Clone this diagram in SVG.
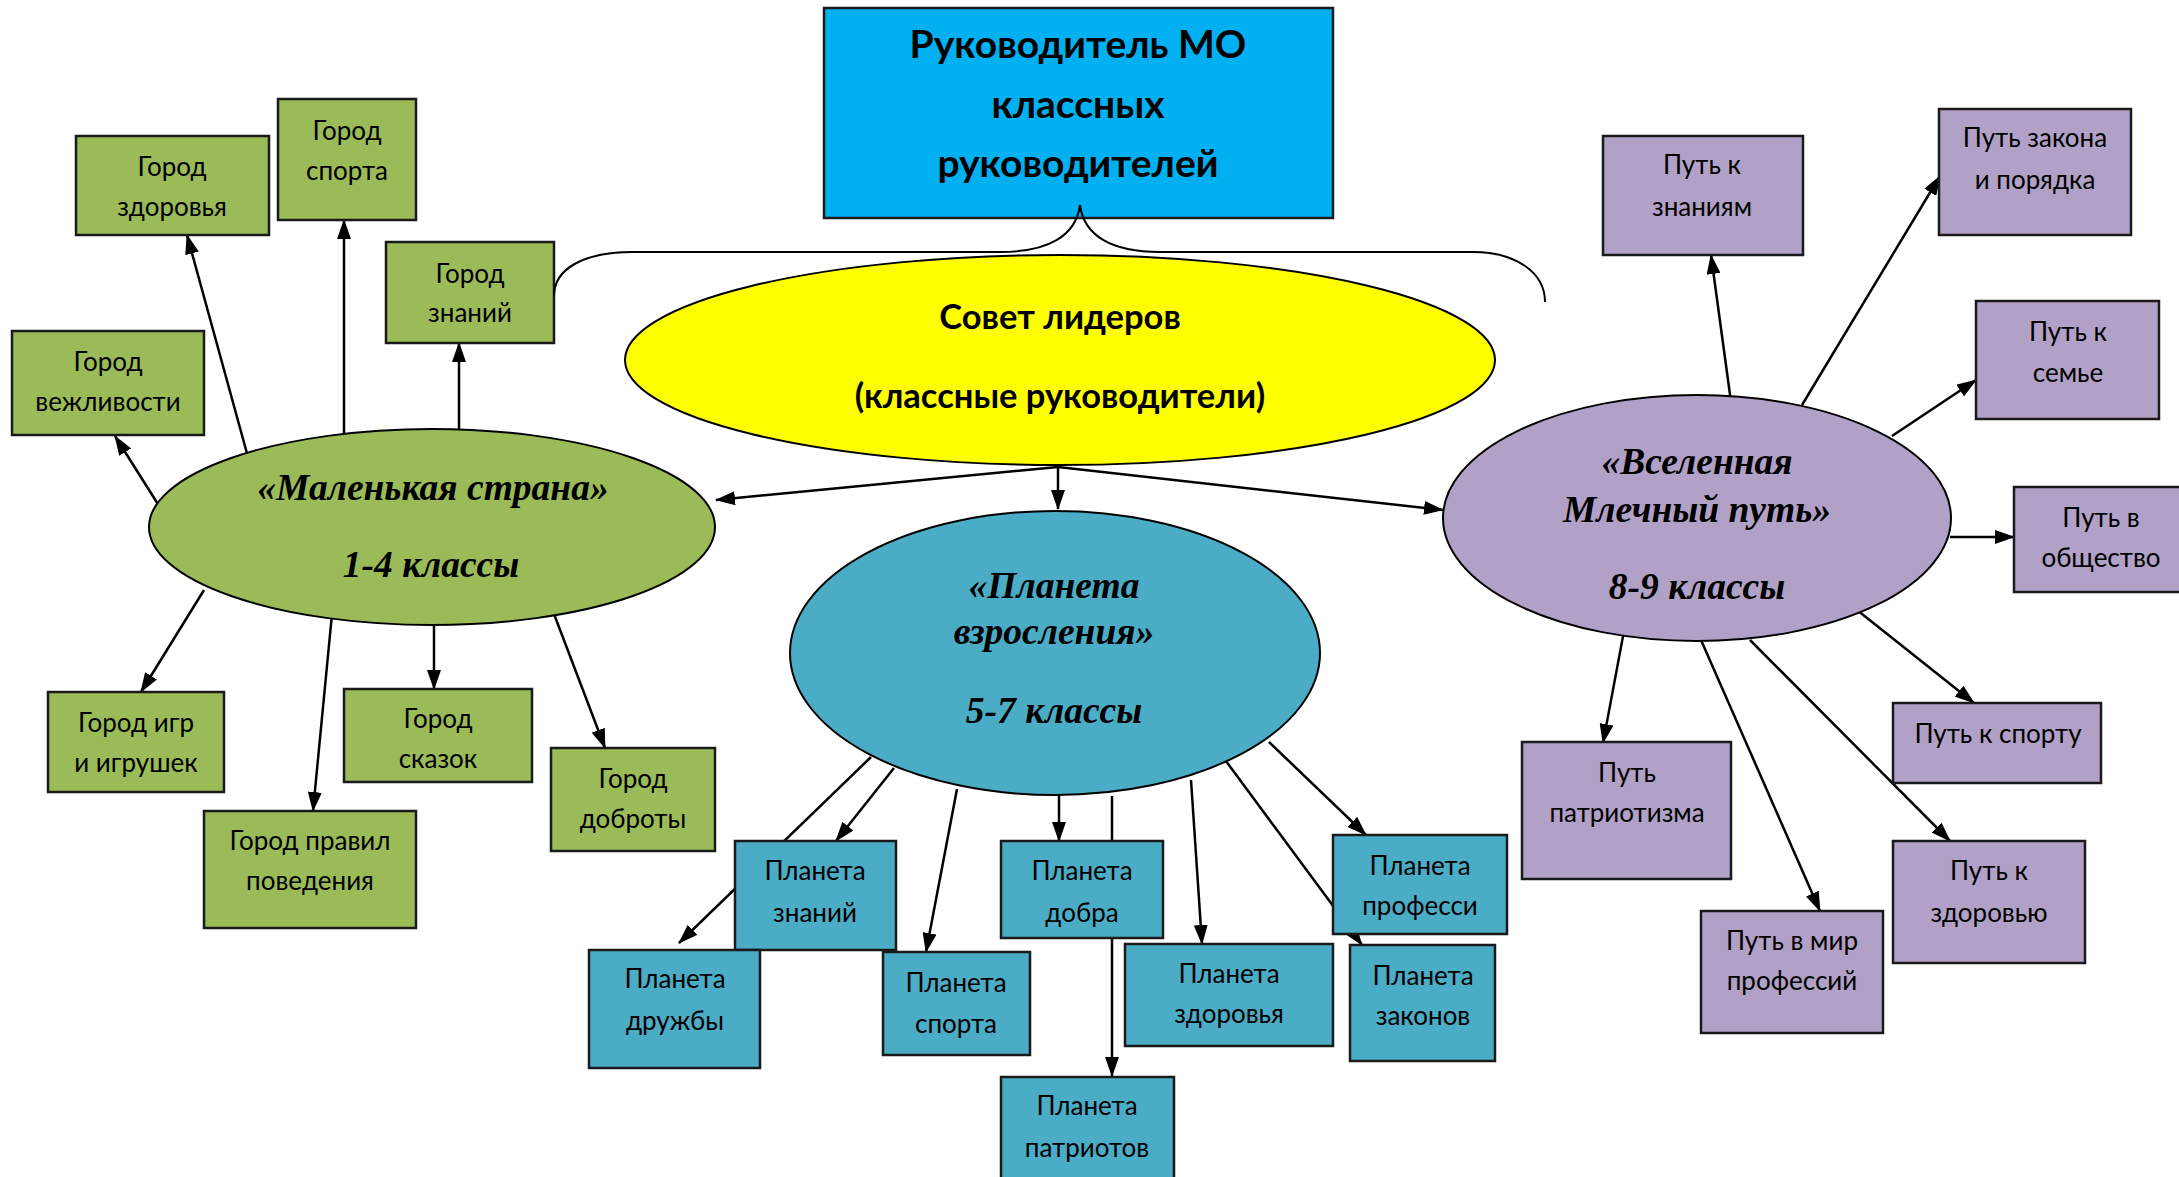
<svg xmlns="http://www.w3.org/2000/svg" width="2179" height="1177" viewBox="0 0 2179 1177">
<defs>
<marker id="ah" markerUnits="userSpaceOnUse" markerWidth="20" markerHeight="14" refX="19" refY="7" orient="auto">
<path d="M0,0 L20,7 L0,14 z" fill="#000"/>
</marker>
<style>
.bx{stroke:#1a1a1a;stroke-width:2.5}
.g{fill:#9BBB59}.b{fill:#4BACC6}.p{fill:#B2A1C7}
.el{stroke:#000;stroke-width:2}
.t{font-family:Lato,"Open Sans","Noto Sans",sans-serif;font-size:26px;fill:#000;text-anchor:middle}
.tb{font-family:Lato,"Open Sans","Noto Sans",sans-serif;font-weight:bold;fill:#000;text-anchor:middle}
.ti{font-family:"Liberation Serif","Times New Roman",serif;font-weight:bold;font-style:italic;font-size:37.5px;fill:#000;text-anchor:middle}
.c line{stroke:#000;stroke-width:2.5;marker-end:url(#ah)}
</style>
</defs>
<rect width="2179" height="1177" fill="#fff"/>

<g id="connectors" class="c">
<line x1="1058" y1="467" x2="716" y2="500"/>
<line x1="1058" y1="467" x2="1058" y2="509"/>
<line x1="1058" y1="467" x2="1443" y2="510"/>
<line x1="161" y1="509" x2="115" y2="436"/>
<line x1="251" y1="468" x2="187" y2="235"/>
<line x1="344" y1="441" x2="344" y2="220"/>
<line x1="459" y1="432" x2="459" y2="343"/>
<line x1="204" y1="590" x2="141" y2="692"/>
<line x1="332" y1="614" x2="313" y2="811"/>
<line x1="434" y1="623" x2="434" y2="689"/>
<line x1="554" y1="614" x2="605" y2="748"/>
<line x1="871" y1="757" x2="679" y2="943"/>
<line x1="894" y1="768" x2="836" y2="841"/>
<line x1="957" y1="789" x2="926" y2="952"/>
<line x1="1059" y1="795" x2="1059" y2="841"/>
<line x1="1112" y1="796" x2="1112" y2="1076"/>
<line x1="1191" y1="780" x2="1202" y2="944"/>
<line x1="1223" y1="757" x2="1362" y2="945"/>
<line x1="1269" y1="742" x2="1366" y2="835"/>
<line x1="1731" y1="402" x2="1711" y2="255"/>
<line x1="1802" y1="405" x2="1940" y2="176"/>
<line x1="1892" y1="436" x2="1976" y2="380"/>
<line x1="1950" y1="537" x2="2014" y2="537"/>
<line x1="1624" y1="631" x2="1603" y2="743"/>
<line x1="1701" y1="640" x2="1820" y2="911"/>
<line x1="1750" y1="640" x2="1950" y2="841"/>
<line x1="1857" y1="610" x2="1974" y2="703"/>
</g>

<g id="n-top">
<rect x="824" y="8" width="509" height="210" fill="#00B0F0" class="bx"/>
<text class="tb" x="1078" y="58" font-size="39">Руководитель МО</text>
<text class="tb" x="1078" y="118" font-size="39">классных</text>
<text class="tb" x="1078" y="177" font-size="39">руководителей</text>
</g>

<g id="n-sovet">
<ellipse cx="1060" cy="360" rx="435" ry="105" fill="#FFFF00" class="el"/>
<text class="tb" x="1060" y="329" font-size="34.5">Совет лидеров</text>
<text class="tb" x="1060" y="408" font-size="34.5">(классные руководители)</text>
</g>

<g id="n-strana">
<ellipse cx="432" cy="527" rx="283" ry="98" fill="#9BBB59" class="el"/>
<text class="ti" x="433" y="500">«Маленькая страна»</text>
<text class="ti" x="431" y="577">1-4 классы</text>
</g>

<g id="n-planeta">
<ellipse cx="1055" cy="653" rx="265" ry="142" fill="#4BACC6" class="el"/>
<text class="ti" x="1054" y="598">«Планета</text>
<text class="ti" x="1054" y="644">взросления»</text>
<text class="ti" x="1054" y="723">5-7 классы</text>
</g>

<g id="n-vselennaya">
<ellipse cx="1697" cy="518" rx="254" ry="123" fill="#B2A1C7" class="el"/>
<text class="ti" x="1697" y="474">«Вселенная</text>
<text class="ti" x="1697" y="522">Млечный путь»</text>
<text class="ti" x="1697" y="599">8-9 классы</text>
</g>

<g id="g-zdorovya"><rect x="76" y="136" width="193" height="99" class="bx g"/>
<text class="t" x="172" y="176">Город</text><text class="t" x="172" y="216">здоровья</text></g>
<g id="g-sporta"><rect x="278" y="99" width="138" height="121" class="bx g"/>
<text class="t" x="347" y="140">Город</text><text class="t" x="347" y="180">спорта</text></g>
<g id="g-znaniy"><rect x="386" y="242" width="168" height="101" class="bx g"/>
<text class="t" x="470" y="283">Город</text><text class="t" x="470" y="322">знаний</text></g>
<g id="g-vezhlivosti"><rect x="12" y="331" width="192" height="104" class="bx g"/>
<text class="t" x="108" y="371">Город</text><text class="t" x="108" y="411">вежливости</text></g>
<g id="g-igr"><rect x="48" y="692" width="176" height="100" class="bx g"/>
<text class="t" x="136" y="732">Город игр</text><text class="t" x="136" y="772">и игрушек</text></g>
<g id="g-pravil"><rect x="204" y="811" width="212" height="117" class="bx g"/>
<text class="t" x="310" y="850">Город правил</text><text class="t" x="310" y="890">поведения</text></g>
<g id="g-skazok"><rect x="344" y="689" width="188" height="93" class="bx g"/>
<text class="t" x="438" y="728">Город</text><text class="t" x="438" y="768">сказок</text></g>
<g id="g-dobroty"><rect x="551" y="748" width="164" height="103" class="bx g"/>
<text class="t" x="633" y="788">Город</text><text class="t" x="633" y="828">доброты</text></g>

<g id="b-znaniy"><rect x="735" y="841" width="161" height="109" class="bx b"/>
<text class="t" x="815" y="880">Планета</text><text class="t" x="815" y="922">знаний</text></g>
<g id="b-druzhby"><rect x="589" y="950" width="171" height="118" class="bx b"/>
<text class="t" x="675" y="988">Планета</text><text class="t" x="675" y="1030">дружбы</text></g>
<g id="b-sporta"><rect x="883" y="952" width="147" height="103" class="bx b"/>
<text class="t" x="956" y="992">Планета</text><text class="t" x="956" y="1033">спорта</text></g>
<g id="b-dobra"><rect x="1001" y="841" width="162" height="97" class="bx b"/>
<text class="t" x="1082" y="880">Планета</text><text class="t" x="1082" y="922">добра</text></g>
<g id="b-patriotov"><rect x="1001" y="1077" width="173" height="110" class="bx b"/>
<text class="t" x="1087" y="1115">Планета</text><text class="t" x="1087" y="1157">патриотов</text></g>
<g id="b-zdorovya"><rect x="1125" y="944" width="208" height="102" class="bx b"/>
<text class="t" x="1229" y="983">Планета</text><text class="t" x="1229" y="1023">здоровья</text></g>
<g id="b-professi"><rect x="1333" y="835" width="174" height="99" class="bx b"/>
<text class="t" x="1420" y="875">Планета</text><text class="t" x="1420" y="915">професси</text></g>
<g id="b-zakonov"><rect x="1350" y="945" width="145" height="116" class="bx b"/>
<text class="t" x="1423" y="985">Планета</text><text class="t" x="1423" y="1025">законов</text></g>

<g id="p-znaniyam"><rect x="1603" y="136" width="200" height="119" class="bx p"/>
<text class="t" x="1702" y="174">Путь к</text><text class="t" x="1702" y="216">знаниям</text></g>
<g id="p-zakona"><rect x="1939" y="109" width="192" height="126" class="bx p"/>
<text class="t" x="2035" y="147">Путь закона</text><text class="t" x="2035" y="189">и порядка</text></g>
<g id="p-semye"><rect x="1976" y="301" width="183" height="118" class="bx p"/>
<text class="t" x="2068" y="341">Путь к</text><text class="t" x="2068" y="382">семье</text></g>
<g id="p-obshchestvo"><rect x="2014" y="487" width="180" height="105" class="bx p"/>
<text class="t" x="2101" y="527">Путь в</text><text class="t" x="2101" y="567">общество</text></g>
<g id="p-sportu"><rect x="1893" y="703" width="208" height="80" class="bx p"/>
<text class="t" x="1998" y="743">Путь к спорту</text></g>
<g id="p-patriotizma"><rect x="1522" y="742" width="209" height="137" class="bx p"/>
<text class="t" x="1627" y="782">Путь</text><text class="t" x="1627" y="822">патриотизма</text></g>
<g id="p-professiy"><rect x="1701" y="911" width="182" height="122" class="bx p"/>
<text class="t" x="1792" y="950">Путь в мир</text><text class="t" x="1792" y="990">профессий</text></g>
<g id="p-zdorovyu"><rect x="1893" y="841" width="192" height="122" class="bx p"/>
<text class="t" x="1989" y="880">Путь к</text><text class="t" x="1989" y="922">здоровью</text></g>

<g id="brace">
<path d="M554,296 C554,268 585,252 633,252 L1000,252 C1048,252 1076,236 1080,205 C1084,236 1112,252 1160,252 L1473,252 C1515,252 1545,272 1545,302" fill="none" stroke="#000" stroke-width="2"/>
</g>
</svg>
